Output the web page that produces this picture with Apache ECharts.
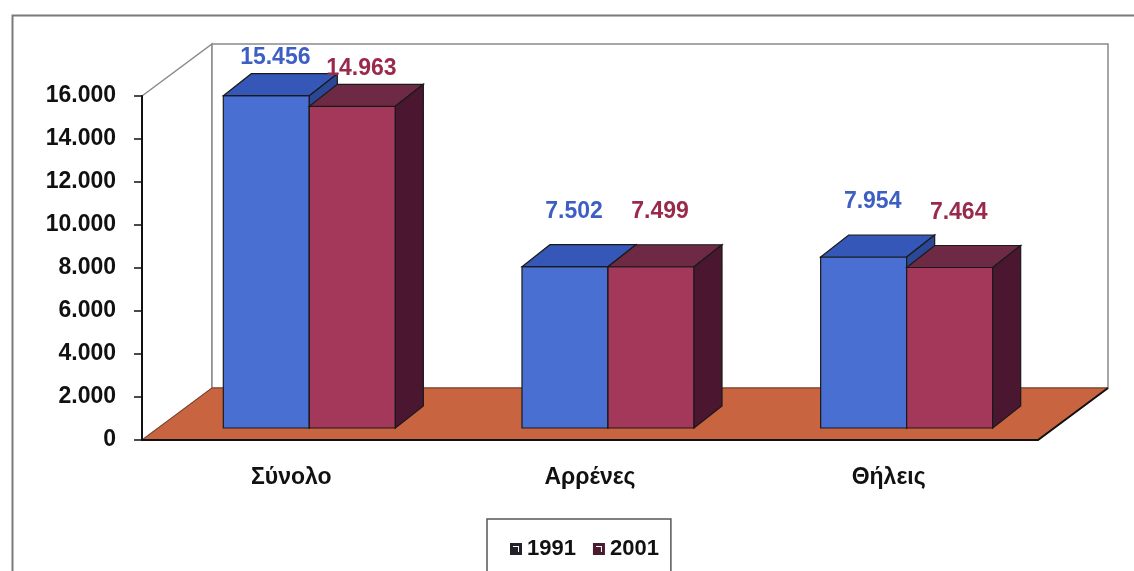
<!DOCTYPE html>
<html>
<head>
<meta charset="utf-8">
<script src="https://cdn.jsdelivr.net/npm/echarts@6/dist/echarts.min.js"></script>
<style>
  html, body { margin: 0; padding: 0; background: #fff; }
  #chart { width: 1134px; height: 571px; }
</style>
</head>
<body>
<div id="chart"></div>
<script>
// categories and values
var categories = ['Σύνολο', 'Αρρένες', 'Θήλεις'];
var values1991 = [15456, 7502, 7954];
var values2001 = [14963, 7499, 7464];
var yMin = 0, yMax = 16000, yStep = 2000;

// fake 3d: wall depth and bar depth (pixels)
var WALL_DX = 70, WALL_DY = -52;
var BAR_OX = 18, BAR_OY = -12;
var BAR_DX = 28, BAR_DY = -22;
var FONT = '"Liberation Sans", Arial, sans-serif';

function fmt(v) {
    return String(v).replace(/\B(?=(\d{3})+(?!\d))/g, '.');
}

var myChart = echarts.init(document.getElementById('chart'));

// walls + floor, drawn from the grid rect
function renderFrame(params, api) {
    var cs = params.coordSys;
    var x = cs.x, y = cs.y, w = cs.width, h = cs.height;
    return {
        type: 'group',
        children: [
            { type: 'polygon', shape: { points: [[x, y], [x + WALL_DX, y + WALL_DY], [x + WALL_DX, y + h + WALL_DY], [x, y + h]] },
              style: { fill: '#fff', stroke: '#8a8a8a', lineWidth: 1.5 } },
            { type: 'rect', shape: { x: x + WALL_DX, y: y + WALL_DY, width: w, height: h },
              style: { fill: '#fff', stroke: '#8a8a8a', lineWidth: 1.5 } },
            { type: 'polygon', shape: { points: [[x, y + h], [x + w, y + h], [x + w + WALL_DX, y + h + WALL_DY], [x + WALL_DX, y + h + WALL_DY]] },
              style: { fill: '#c8643f', stroke: '#7a3a22', lineWidth: 1 } },
            { type: 'polyline', shape: { points: [[x, y + h], [x + w, y + h], [x + w + WALL_DX, y + h + WALL_DY]] },
              style: { fill: null, stroke: '#111', lineWidth: 2 } }
        ]
    };
}

function makeBar(left, front, top, side, labelColor) {
    return function (params, api) {
        var idx = api.value(0), val = api.value(1);
        var base = api.coord([idx, 0]);
        var tip = api.coord([idx, val]);
        var bw = api.size([1, 0])[0] * 0.288;
        var cx = base[0] + BAR_OX;
        var x0 = left ? cx - bw : cx;
        var x1 = x0 + bw;
        var yb = base[1] + BAR_OY, yt = tip[1] + BAR_OY;
        var ly = yt - 55;
        if (ly < 70) ly = yt - 38;
        var edge = { stroke: '#1a1a1a', lineWidth: 1.2 };
        return {
            type: 'group',
            children: [
                { type: 'rect', shape: { x: x0, y: yt, width: bw, height: yb - yt },
                  style: Object.assign({ fill: front }, edge) },
                { type: 'polygon', shape: { points: [[x0, yt], [x0 + BAR_DX, yt + BAR_DY], [x1 + BAR_DX, yt + BAR_DY], [x1, yt]] },
                  style: Object.assign({ fill: top }, edge) },
                { type: 'polygon', shape: { points: [[x1, yt], [x1 + BAR_DX, yt + BAR_DY], [x1 + BAR_DX, yb + BAR_DY], [x1, yb]] },
                  style: Object.assign({ fill: side }, edge) },
                { type: 'text', x: (x0 + x1) / 2 + 9, y: ly,
                  style: { text: fmt(val), fill: labelColor, font: 'bold 23px ' + FONT, align: 'center', verticalAlign: 'middle' } }
            ]
        };
    };
}

var legendIcon = 'path://M0,0 L12,0 L12,12 L0,12 Z M3,3 L3,4 L8,4 L8,9 L9,9 L9,3 Z';

var option = {
    animation: false,
    graphic: [{
        type: 'rect', left: 10, top: 13, shape: { width: 1160, height: 600 },
        style: { fill: null, stroke: '#7a7a7a', lineWidth: 2 }, z: -1
    }],
    grid: { left: 142, right: 96, top: 96, bottom: 131 },
    legend: {
        left: 487, top: 519,
        padding: [19, 12, 30, 23],
        borderColor: '#555', borderWidth: 1.5,
        itemWidth: 12, itemHeight: 12, itemGap: 17,
        textStyle: { fontFamily: FONT, fontWeight: 'bold', fontSize: 22, color: '#111' },
        data: [
            { name: '1991', icon: legendIcon, itemStyle: { color: '#222228' } },
            { name: '2001', icon: legendIcon, itemStyle: { color: '#4a1a2e' } }
        ]
    },
    xAxis: {
        type: 'category',
        data: categories,
        axisLine: { show: false },
        axisTick: { show: false },
        axisLabel: { margin: 26, fontFamily: FONT, fontWeight: 'bold', fontSize: 23, color: '#111' }
    },
    yAxis: {
        type: 'value',
        min: yMin, max: yMax, interval: yStep,
        z: 10,
        axisLine: { show: true, lineStyle: { color: '#111', width: 2 } },
        axisTick: { show: true, length: 8, lineStyle: { color: '#111', width: 1.5 } },
        splitLine: { show: false },
        axisLabel: { margin: 26, fontFamily: FONT, fontWeight: 'bold', fontSize: 23, color: '#111', formatter: fmt }
    },
    series: [{
        type: 'custom',
        name: 'frame',
        z: 1,
        silent: true,
        renderItem: renderFrame,
        data: [[0, 0]]
    }, {
        type: 'custom',
        name: '1991',
        z: 3,
        itemStyle: { color: '#222228' },
        renderItem: makeBar(true, '#4a6fd2', '#3558b8', '#2c4795', '#3d5fc4'),
        encode: { x: 0, y: 1 },
        data: values1991.map(function (v, i) { return [i, v]; })
    }, {
        type: 'custom',
        name: '2001',
        z: 4,
        itemStyle: { color: '#4a1a2e' },
        renderItem: makeBar(false, '#a3385a', '#6e2a45', '#4b1730', '#9a2a4c'),
        encode: { x: 0, y: 1 },
        data: values2001.map(function (v, i) { return [i, v]; })
    }]
};

myChart.setOption(option);
</script>
</body>
</html>
